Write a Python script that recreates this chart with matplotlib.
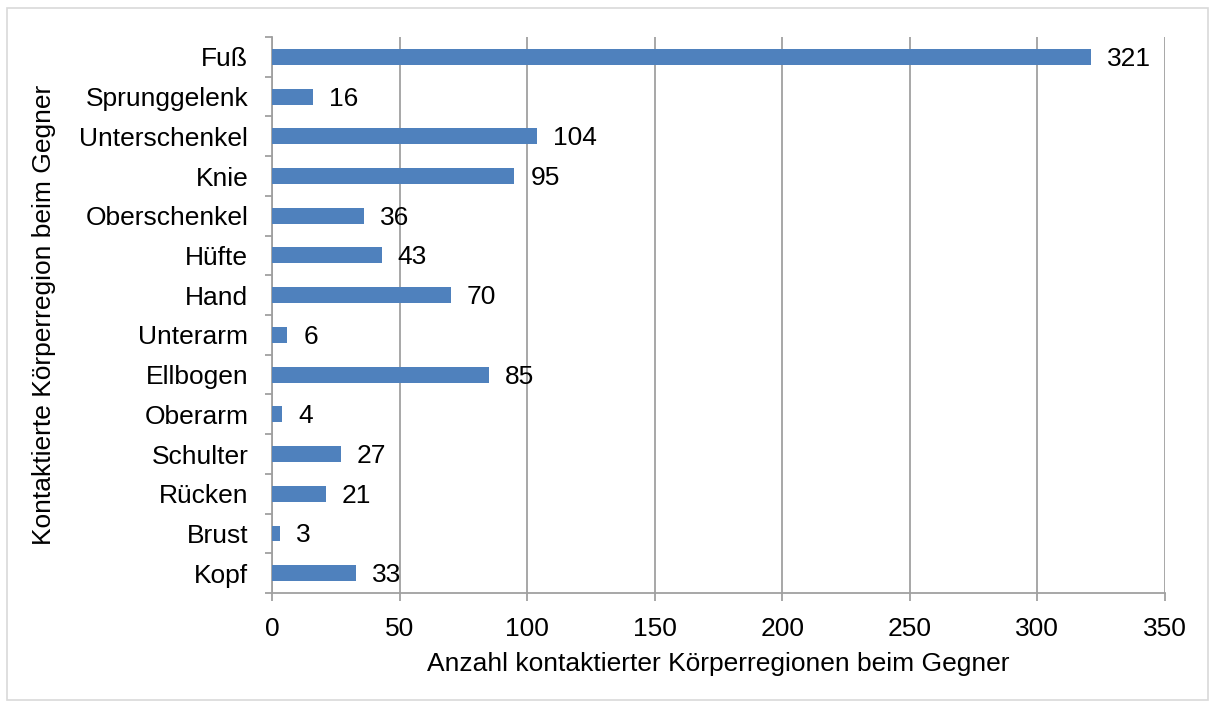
import matplotlib.pyplot as plt
from matplotlib.patches import Rectangle

# contacted body regions of the opponent (top to bottom)
regionen = ['Fuß', 'Sprunggelenk', 'Unterschenkel', 'Knie', 'Oberschenkel', 'Hüfte',
            'Hand', 'Unterarm', 'Ellbogen', 'Oberarm', 'Schulter', 'Rücken', 'Brust', 'Kopf']
anzahl = [321, 16, 104, 95, 36, 43, 70, 6, 85, 4, 27, 21, 3, 33]
x_ticks = [0, 50, 100, 150, 200, 250, 300, 350]

plt.rcParams['font.family'] = ['Liberation Sans', 'DejaVu Sans']
plt.rcParams['font.size'] = 19

fig = plt.figure(figsize=(12.13, 7.06), dpi=100)
ax = fig.add_axes([0.2242, 0.160, 0.7362, 0.7876])

# outer chart frame
fig.patches.append(Rectangle((0.006, 0.008), 0.990, 0.981, transform=fig.transFigure,
                             fill=False, edgecolor='#d9d9d9', linewidth=1.2))

pos = list(range(len(regionen)))[::-1]
ax.barh(pos, anzahl, height=0.4, color='#4f81bd', zorder=3)
for p, v in zip(pos, anzahl):
    ax.annotate(str(v), (v, p), xytext=(16, -2), textcoords='offset pixels',
                va='center', ha='left', zorder=4)

ax.set_xlim(0, 350)
ax.set_ylim(-0.5, len(regionen) - 0.5)
ax.set_xticks(x_ticks)
ax.set_yticks(pos)
ax.set_yticklabels(regionen)
ax.set_yticks([p + 0.5 for p in range(len(regionen))] + [-0.5], minor=True)

ax.grid(axis='x', color='#a0a0a0', linewidth=1.3, zorder=0)
for side in ['top', 'right']:
    ax.spines[side].set_visible(False)
for side in ['left', 'bottom']:
    ax.spines[side].set_color('#a0a0a0')
    ax.spines[side].set_linewidth(1.3)

ax.tick_params(axis='y', which='major', length=0, pad=17)
ax.tick_params(axis='y', which='minor', length=5, width=1.3, color='#a0a0a0')
ax.tick_params(axis='x', length=6, width=1.3, color='#a0a0a0', pad=11)

ax.set_xlabel('Anzahl kontaktierter Körperregionen beim Gegner', labelpad=8)
ax.set_ylabel('Kontaktierte Körperregion beim Gegner', labelpad=17)

fig.savefig('out.png', dpi=100)
